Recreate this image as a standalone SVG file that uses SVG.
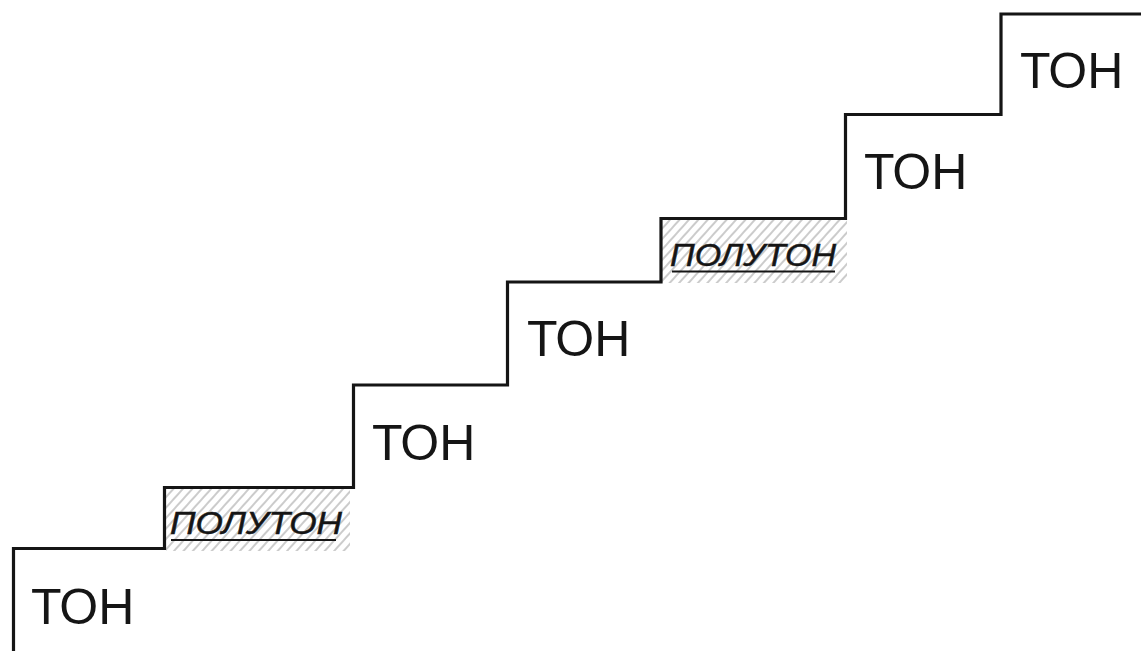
<svg xmlns="http://www.w3.org/2000/svg" width="1141" height="651" viewBox="0 0 1141 651">
<style>
.stair{fill:none;stroke:#151515;stroke-width:3.2;stroke-linejoin:miter}
.ton{font-family:"Liberation Sans",Arial,sans-serif;font-size:50px;fill:#151515}
.pol{font-family:"Liberation Sans",Arial,sans-serif;font-size:32px;font-style:italic;fill:#151515;stroke:#151515;stroke-width:0.5}
.ul{stroke:#151515;stroke-width:1.8}
.hatch{fill:url(#h)}
</style>
<defs>
<pattern id="h" patternUnits="userSpaceOnUse" width="7" height="10" patternTransform="rotate(42)">
<line x1="1" y1="0" x2="1" y2="10" stroke="#8c8c8c" stroke-width="0.9"/>
</pattern>
</defs>
<rect width="1141" height="651" fill="#fff"/>
<g id="half1">
<rect class="hatch" x="166" y="489" width="184" height="62"/>
<text class="pol" x="170" y="534" textLength="172" lengthAdjust="spacingAndGlyphs">ПОЛУТОН</text>
<line class="ul" x1="171" y1="540" x2="336" y2="540"/>
</g>
<g id="half2">
<rect class="hatch" x="662" y="220" width="185" height="63"/>
<text class="pol" x="670" y="266" textLength="166" lengthAdjust="spacingAndGlyphs">ПОЛУТОН</text>
<line class="ul" x1="672" y1="271.5" x2="835" y2="271.5"/>
</g>
<g id="connectors">
<path class="stair" d="M13.5 651 V548.5 H164.5 V487.5 H353.5 V385 H507.5 V282 H661 V218.5 H845.5 V114.5 H1001 V14 H1141"/>
</g>
<g id="ton1"><text class="ton" x="31" y="624">ТОН</text></g>
<g id="ton2"><text class="ton" x="372" y="460">ТОН</text></g>
<g id="ton3"><text class="ton" x="527" y="356">ТОН</text></g>
<g id="ton4"><text class="ton" x="864" y="189">ТОН</text></g>
<g id="ton5"><text class="ton" x="1020" y="88">ТОН</text></g>
</svg>
